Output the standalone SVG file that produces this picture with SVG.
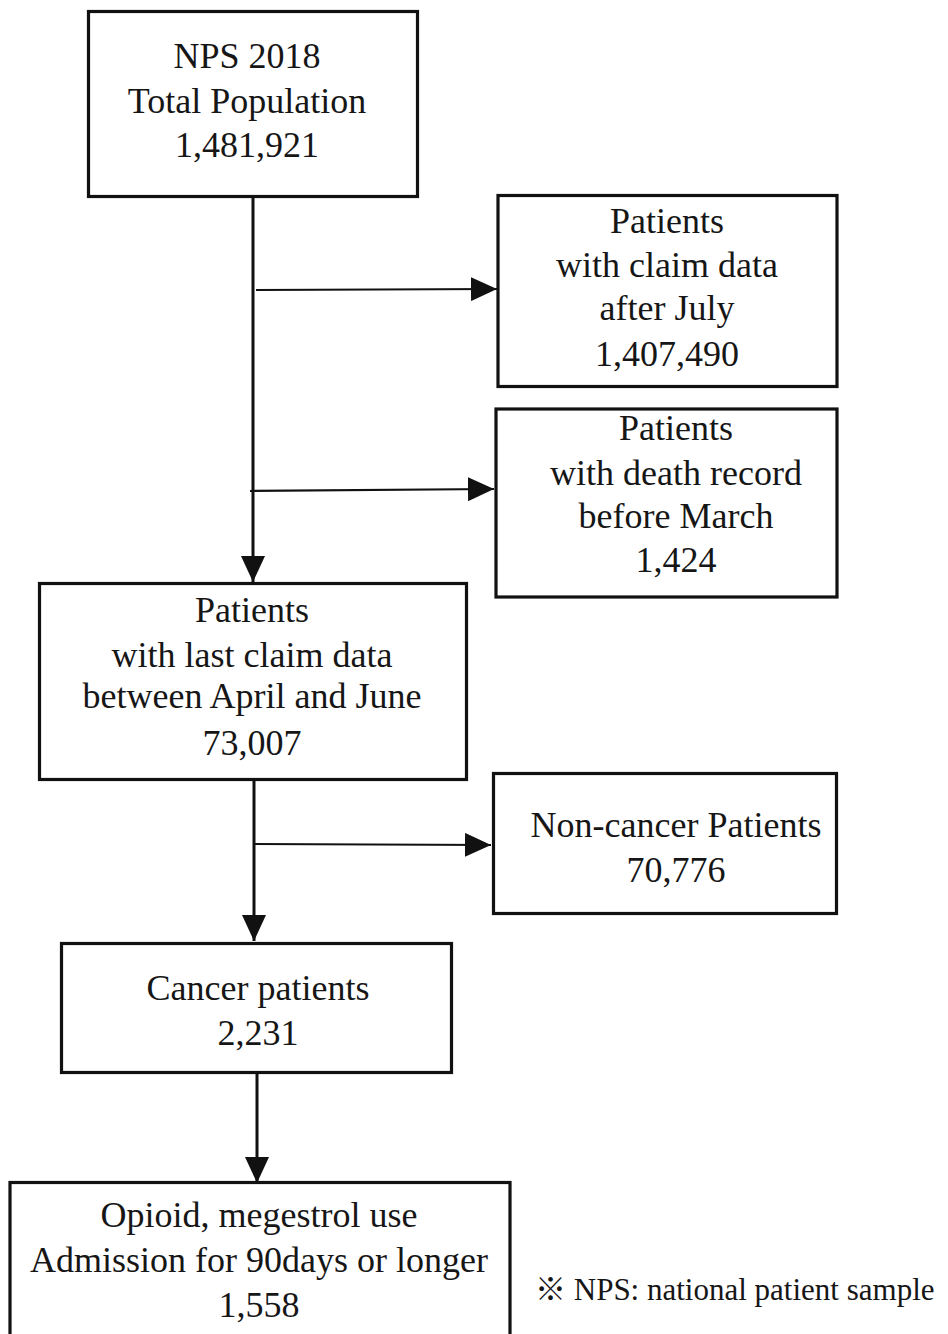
<svg xmlns="http://www.w3.org/2000/svg" width="948" height="1334" viewBox="0 0 948 1334">
  <style>
    .box { fill: #ffffff; stroke: #111111; stroke-width: 3.2; }
    .lbl { font-family: "Liberation Serif", "Times New Roman", serif; font-size: 36px; fill: #161616; text-anchor: middle; }
    .note { font-family: "Liberation Serif", "Times New Roman", "Noto Sans CJK KR", serif; font-size: 31px; fill: #161616; }
    .trunk { stroke: #111111; stroke-width: 3; fill: none; }
    .branch { stroke: #111111; stroke-width: 2.2; fill: none; }
  </style>
  <defs>
    <marker id="head" markerUnits="userSpaceOnUse" markerWidth="26" markerHeight="24" refX="26" refY="12" orient="auto">
      <path d="M0,0 L26,12 L0,24 Z" fill="#111111"/>
    </marker>
  </defs>
  <rect width="948" height="1334" fill="#ffffff"/>

  <g id="connectors">
    <line class="trunk" x1="253" y1="197" x2="253" y2="582" marker-end="url(#head)"/>
    <line class="branch" x1="256" y1="290" x2="497" y2="289" marker-end="url(#head)"/>
    <line class="branch" x1="250" y1="491" x2="494" y2="489" marker-end="url(#head)"/>
    <line class="trunk" x1="254" y1="780" x2="254" y2="941" marker-end="url(#head)"/>
    <line class="branch" x1="254" y1="844" x2="491" y2="845" marker-end="url(#head)"/>
    <line class="trunk" x1="257" y1="1073" x2="257" y2="1183" marker-end="url(#head)"/>
  </g>

  <g id="total-population">
    <rect class="box" x="88.5" y="11.5" width="329" height="185"/>
    <text class="lbl" x="247" y="68">NPS 2018</text>
    <text class="lbl" x="247" y="113">Total Population</text>
    <text class="lbl" x="247" y="157">1,481,921</text>
  </g>

  <g id="claim-after-july">
    <rect class="box" x="498" y="195.5" width="339" height="191"/>
    <text class="lbl" x="667" y="233">Patients</text>
    <text class="lbl" x="667" y="277">with claim data</text>
    <text class="lbl" x="667" y="320">after July</text>
    <text class="lbl" x="667" y="366">1,407,490</text>
  </g>

  <g id="death-before-march">
    <rect class="box" x="496" y="409" width="341" height="188"/>
    <text class="lbl" x="676" y="440">Patients</text>
    <text class="lbl" x="676" y="485">with death record</text>
    <text class="lbl" x="676" y="528">before March</text>
    <text class="lbl" x="676" y="572">1,424</text>
  </g>

  <g id="last-claim-april-june">
    <rect class="box" x="39.5" y="583.5" width="427" height="196"/>
    <text class="lbl" x="252" y="622">Patients</text>
    <text class="lbl" x="252" y="667">with last claim data</text>
    <text class="lbl" x="252" y="708">between April and June</text>
    <text class="lbl" x="252" y="755">73,007</text>
  </g>

  <g id="non-cancer">
    <rect class="box" x="493.5" y="773.5" width="343" height="140"/>
    <text class="lbl" x="676" y="837">Non-cancer Patients</text>
    <text class="lbl" x="676" y="882">70,776</text>
  </g>

  <g id="cancer">
    <rect class="box" x="61.5" y="943.5" width="390" height="129"/>
    <text class="lbl" x="258" y="1000">Cancer patients</text>
    <text class="lbl" x="258" y="1045">2,231</text>
  </g>

  <g id="final-cohort">
    <rect class="box" x="10" y="1182.5" width="500" height="160"/>
    <text class="lbl" x="259" y="1227">Opioid, megestrol use</text>
    <text class="lbl" x="259" y="1272">Admission for 90days or longer</text>
    <text class="lbl" x="259" y="1317">1,558</text>
  </g>

  <text class="note" x="535" y="1300">※ NPS: national patient sample</text>
</svg>
